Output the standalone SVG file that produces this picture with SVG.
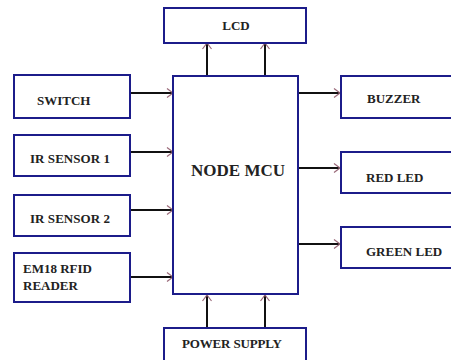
<svg xmlns="http://www.w3.org/2000/svg" width="451" height="360" viewBox="0 0 451 360">
<style>
.box{fill:#fff;stroke:#1c1c8a;stroke-width:2}
.lbl{font-family:"Liberation Serif","Times New Roman",serif;font-weight:bold;font-size:13px;fill:#222}
.big{font-size:17px}
.con{stroke:#111;stroke-width:2;fill:none}
.head{stroke:#9a6a7a;stroke-width:1.2;fill:none}
</style>
<defs>
<marker id="ah" markerWidth="10" markerHeight="10" refX="9" refY="5" orient="auto" markerUnits="userSpaceOnUse">
<path class="head" d="M3,0.5 L9,5 L3,9.5"/>
</marker>
</defs>
<rect width="451" height="360" fill="#fff"/>
<g id="connectors">
<line class="con" x1="207" y1="76" x2="207" y2="43" marker-end="url(#ah)"/>
<line class="con" x1="265" y1="76" x2="265" y2="43" marker-end="url(#ah)"/>
<line class="con" x1="130" y1="93" x2="173" y2="93" marker-end="url(#ah)"/>
<line class="con" x1="130" y1="152" x2="173" y2="152" marker-end="url(#ah)"/>
<line class="con" x1="130" y1="210" x2="173" y2="210" marker-end="url(#ah)"/>
<line class="con" x1="130" y1="277" x2="173" y2="277" marker-end="url(#ah)"/>
<line class="con" x1="298" y1="93" x2="340" y2="93" marker-end="url(#ah)"/>
<line class="con" x1="298" y1="168" x2="340" y2="168" marker-end="url(#ah)"/>
<line class="con" x1="298" y1="244" x2="340" y2="244" marker-end="url(#ah)"/>
<line class="con" x1="207" y1="328" x2="207" y2="295" marker-end="url(#ah)"/>
<line class="con" x1="265" y1="328" x2="265" y2="295" marker-end="url(#ah)"/>
</g>
<g id="lcd"><rect class="box" x="164" y="8" width="142" height="35"/><text class="lbl" x="236" y="30" text-anchor="middle" font-size="12">LCD</text></g>
<g id="mcu"><rect class="box" x="173" y="76" width="125" height="218"/><text class="lbl big" x="238" y="176" text-anchor="middle">NODE MCU</text></g>
<g id="switch"><rect class="box" x="14" y="75" width="116" height="43"/><text class="lbl" x="37" y="105">SWITCH</text></g>
<g id="ir1"><rect class="box" x="14" y="135" width="116" height="41"/><text class="lbl" x="30" y="163" textLength="80">IR SENSOR 1</text></g>
<g id="ir2"><rect class="box" x="14" y="195" width="116" height="41"/><text class="lbl" x="30" y="223" textLength="80">IR SENSOR 2</text></g>
<g id="rfid"><rect class="box" x="14" y="253" width="116" height="49"/><text class="lbl" x="23" y="273">EM18 RFID</text><text class="lbl" x="23" y="290">READER</text></g>
<g id="buzzer"><rect class="box" x="341" y="76" width="112" height="42"/><text class="lbl" x="367" y="103">BUZZER</text></g>
<g id="redled"><rect class="box" x="341" y="152" width="112" height="41"/><text class="lbl" x="366" y="182">RED LED</text></g>
<g id="greenled"><rect class="box" x="341" y="227" width="112" height="41"/><text class="lbl" x="366" y="256">GREEN LED</text></g>
<g id="power"><rect class="box" x="164" y="328" width="142" height="40"/><text class="lbl" x="232" y="348" text-anchor="middle" textLength="100">POWER SUPPLY</text></g>
</svg>
